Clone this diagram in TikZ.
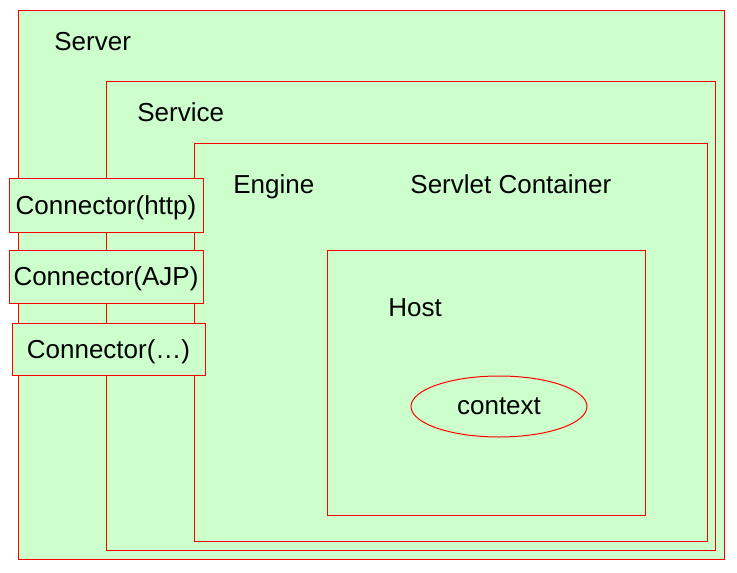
\documentclass[tikz,border=0pt]{standalone}
\usepackage{fontspec}
\setmainfont{Liberation Sans}
\usetikzlibrary{shapes.geometric}
\definecolor{boxgreen}{HTML}{CCFFCC}

\begin{document}
\begin{tikzpicture}[x=0.5pt, y=-0.5pt,
		every node/.style={font=\fontsize{13}{15}\selectfont},
		box/.style={draw=red, fill=boxgreen, line width=0.5pt},
		lbl/.style={anchor=base west, inner sep=0pt},
		conn/.style={box, minimum width=97pt, minimum height=26.5pt, inner sep=0pt, text depth=0pt}]
				\useasboundingbox (0,0) rectangle (737,572);
				
				% Server box
				\draw[box] (18,11) rectangle (724,559);
				\node[lbl] (server) at (54,51) {Server};
				
				% Service box
				\draw[box] (106,82) rectangle (715,550);
				\node[lbl] (service) at (137,122) {Service};
				
				% Engine box
				\draw[box] (194,144) rectangle (707,541);
				\node[lbl] (engine) at (233,193.5) {Engine};
				\node[lbl] (container) at (410,193.5) {Servlet Container};
				
				% Host box with context
				\draw[box] (327,250) rectangle (645,515);
				\node[lbl] (host) at (388,316) {Host};
				\node[box, ellipse, minimum width=88pt, minimum height=30.5pt, inner sep=0pt] (context) at (499,406.5) {context};
				
				% Connectors on the left
				\node[conn] (http) at (106,205.5) {Connector(http)};
				\node[conn] (ajp) at (106,276.5) {Connector(AJP)};
				\node[conn, minimum width=96.5pt, minimum height=26pt] (other) at (108.5,349) {Connector(…)};
			\end{tikzpicture}
\end{document}
